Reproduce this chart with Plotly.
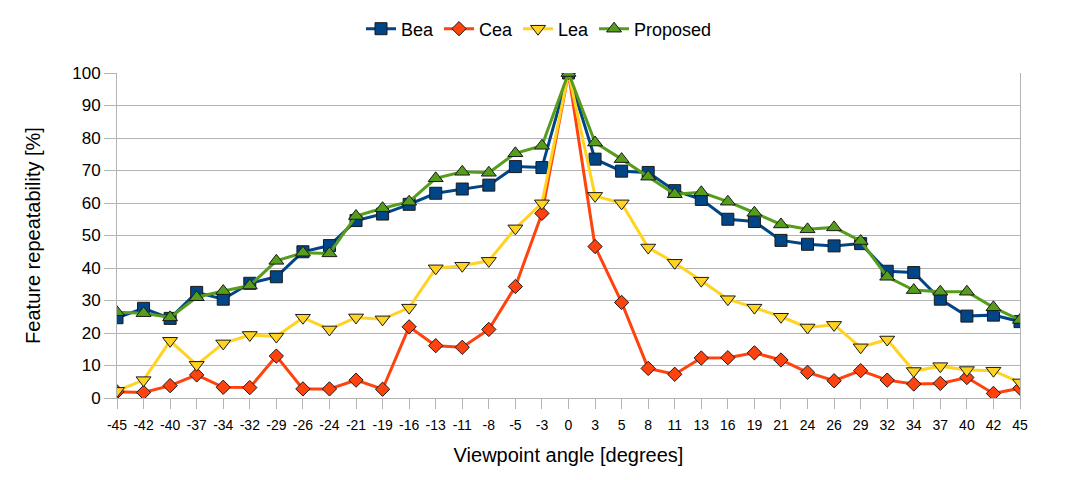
import plotly.graph_objects as go

angles = ['-45', '-42', '-40', '-37', '-34', '-32', '-29', '-26', '-24', '-21', '-19',
          '-16', '-13', '-11', '-8', '-5', '-3', '0', '3', '5', '8', '11', '13', '16',
          '19', '21', '24', '26', '29', '32', '34', '37', '40', '42', '45']

bea = [24.7, 27.6, 24.5, 32.5, 30.4, 35.3, 37.3, 45.0, 46.9, 54.6, 56.6,
       59.6, 63.0, 64.3, 65.5, 71.2, 70.9, 100, 73.5, 69.8, 69.4, 63.8, 61.1, 55.0,
       54.3, 48.5, 47.3, 46.8, 47.5, 39.0, 38.6, 30.4, 25.2, 25.5, 23.5]

cea = [1.9, 1.7, 3.8, 7.1, 3.3, 3.2, 12.9, 2.8, 2.8, 5.5, 2.7,
       21.9, 16.1, 15.6, 21.1, 34.3, 56.8, 100, 46.6, 29.4, 9.1, 7.3, 12.3, 12.4,
       13.9, 11.7, 7.9, 5.3, 8.4, 5.5, 4.3, 4.5, 6.3, 1.4, 3.0]

lea = [2.2, 5.5, 17.6, 10.2, 16.8, 19.4, 18.9, 24.7, 21.1, 24.8, 24.2,
       27.8, 39.9, 40.7, 42.2, 52.2, 59.9, 100, 62.2, 59.9, 46.3, 41.6, 36.1, 30.4,
       27.8, 25.0, 21.7, 22.5, 15.6, 18.0, 8.3, 9.8, 8.6, 8.4, 4.8]

proposed = [26.4, 26.1, 24.8, 31.0, 32.9, 34.6, 42.2, 44.7, 44.5, 56.0, 58.4,
            60.4, 67.6, 69.6, 69.3, 75.3, 77.6, 100, 78.6, 73.5, 68.1, 62.7, 63.3, 60.4,
            57.0, 53.4, 51.9, 52.5, 48.3, 37.3, 33.2, 32.7, 32.7, 27.9, 24.0]

series = [
    ('Bea', bea, '#004586', 'square', 12),
    ('Cea', cea, '#ff420e', 'diamond', 11),
    ('Lea', lea, '#ffd320', 'triangle-down', 13),
    ('Proposed', proposed, '#579d1c', 'triangle-up', 13),
]

fig = go.Figure()
for name, vals, color, symbol, size in series:
    fig.add_trace(go.Scatter(
        x=angles, y=vals, mode='lines+markers', name=name,
        line=dict(color=color, width=3),
        marker=dict(symbol=symbol, size=size, color=color,
                    line=dict(color='#1a1a1a', width=1)),
    ))

# the page body adds an 8px offset, so the figure is drawn 8px smaller
fig.update_layout(
    width=1062, height=472,
    margin=dict(l=109, r=50, t=65, b=82),
    plot_bgcolor='white', paper_bgcolor='white',
    font=dict(family='Liberation Sans, Arial, sans-serif', color='black'),
    legend=dict(orientation='h', x=0.5, xanchor='center', xref='container',
                y=1 - 21 / 472, yanchor='middle', yref='container',
                font=dict(size=18), itemwidth=30),
    showlegend=True,
)

fig.update_xaxes(
    type='category', range=[0, len(angles) - 1],
    showgrid=False, showline=True, linecolor='#b3b3b3', linewidth=1,
    ticks='outside', ticklen=10, tickcolor='#b3b3b3',
    tickfont=dict(size=14), tickangle=0, ticklabelstandoff=4,
    title=dict(text='Viewpoint angle [degrees]', font=dict(size=20), standoff=16),
)
fig.update_yaxes(
    range=[0, 100], dtick=10,
    showgrid=True, gridcolor='#b3b3b3', gridwidth=1,
    showline=True, linecolor='#b3b3b3', linewidth=1, mirror=True,
    ticks='outside', ticklen=12, tickcolor='#b3b3b3',
    tickfont=dict(size=17), zeroline=False,
    title=dict(text='Feature repeatability [%]', font=dict(size=20), standoff=26),
)

fig.write_html('out.html')
